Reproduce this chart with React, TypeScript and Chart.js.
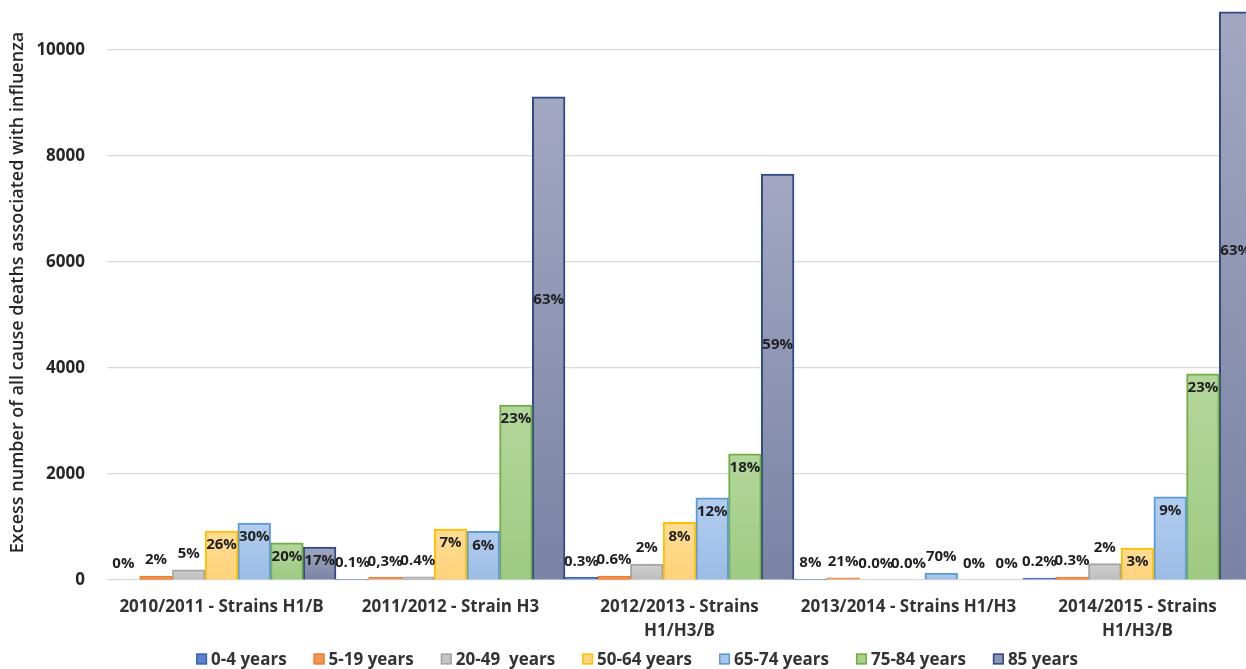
import React, { useEffect, useRef } from "react";
import { Chart, registerables } from "chart.js";

Chart.register(...registerables);

const categories: string[][] = [
  ["2010/2011 - Strains H1/B"],
  ["2011/2012 - Strain H3"],
  ["2012/2013 - Strains", "H1/H3/B"],
  ["2013/2014 - Strains H1/H3"],
  ["2014/2015 - Strains", "H1/H3/B"],
];

const ageGroups = [
  "0-4 years",
  "5-19 years",
  "20-49  years",
  "50-64 years",
  "65-74 years",
  "75-84 years",
  "85 years",
];

// Excess deaths per season for each age group
const deaths0to4 = [0, 15, 50, 15, 35];
const deaths5to19 = [75, 50, 75, 40, 55];
const deaths20to49 = [190, 60, 300, 0, 310];
const deaths50to64 = [925, 960, 1090, 0, 600];
const deaths65to74 = [1075, 920, 1550, 130, 1570];
const deaths75to84 = [700, 3300, 2380, 0, 3890];
const deaths85 = [620, 9115, 7660, 0, 10720];

// Percentage labels shown on the bars
const pct0to4 = ["0%", "0.1%", "0.3%", "8%", "0.2%"];
const pct5to19 = ["2%", "0,3%", "0.6%", "21%", "0.3%"];
const pct20to49 = ["5%", "0.4%", "2%", "0.0%", "2%"];
const pct50to64 = ["26%", "7%", "8%", "0.0%", "3%"];
const pct65to74 = ["30%", "6%", "12%", "70%", "9%"];
const pct75to84 = ["20%", "23%", "18%", "0%", "23%"];
const pct85 = ["17%", "63%", "59%", "0%", "63%"];

const yTicks = [0, 2000, 4000, 6000, 8000, 10000];

const seriesValues = [deaths0to4, deaths5to19, deaths20to49, deaths50to64, deaths65to74, deaths75to84, deaths85];
const seriesPct = [pct0to4, pct5to19, pct20to49, pct50to64, pct65to74, pct75to84, pct85];
const fills = ["#5B80CC", "#F19558", "#C6C6C6", "#FFD785", "#A8C5EA", "#A9D18E", "#8C94B0"];
const fillsTop = ["#6A8CD2", "#F4A46E", "#CFCFCF", "#FFDC95", "#B3CDEE", "#B3D79B", "#A2A8C2"];
const fillsBottom = ["#4F74C4", "#EE8A48", "#BDBDBD", "#FFD27A", "#9CBCE6", "#9FCA82", "#7A83A4"];
const borders = ["#3A64B8", "#ED7D31", "#A5A5A5", "#FFC000", "#5B9BD5", "#70AD47", "#2F4A85"];

const FONT = '"Open Sans", sans-serif';

function barFill(i: number) {
  return (c: any) => {
    const chart = c.chart;
    const ys = chart.scales && chart.scales.y;
    if (!ys || !c.parsed || c.parsed.y == null) return fills[i];
    const top = ys.getPixelForValue(c.parsed.y);
    const base = ys.getPixelForValue(0);
    if (!isFinite(top) || !isFinite(base) || base - top < 2) return fills[i];
    const g = chart.ctx.createLinearGradient(0, top, 0, base);
    g.addColorStop(0, fillsTop[i]);
    g.addColorStop(1, fillsBottom[i]);
    return g;
  };
}

const pctLabelPlugin = {
  id: "pctLabels",
  afterDatasetsDraw(chart: any) {
    const ctx = chart.ctx;
    ctx.save();
    ctx.font = `bold 15px ${FONT}`;
    ctx.fillStyle = "#1f1f1f";
    ctx.textAlign = "center";
    ctx.textBaseline = "middle";
    chart.data.datasets.forEach((_ds: any, di: number) => {
      const meta = chart.getDatasetMeta(di);
      meta.data.forEach((bar: any, i: number) => {
        const { x, y, base } = bar.getProps(["x", "y", "base"], true);
        const h = base - y;
        let cy: number;
        if (h < 20) cy = y - 16;
        else if (h < 300) cy = y + 14;
        else cy = y + 0.42 * h;
        ctx.fillText(seriesPct[di][i], x, cy);
      });
    });
    ctx.restore();
  },
};

const legendPlugin = {
  id: "bottomLegend",
  afterDraw(chart: any) {
    const ctx = chart.ctx;
    const box = 11;
    const textGap = 4;
    const itemGap = 27;
    const centerX = 637;
    const cy = 659;
    ctx.save();
    ctx.font = `bold 17px ${FONT}`;
    ctx.textBaseline = "middle";
    ctx.textAlign = "left";
    const items = chart.data.datasets.map((ds: any, i: number) => ({
      label: ds.label as string,
      fill: fills[i],
      stroke: borders[i],
      w: box + textGap + ctx.measureText(ds.label).width,
    }));
    const total = items.reduce((s: number, it: any) => s + it.w, 0) + itemGap * (items.length - 1);
    let x = centerX - total / 2;
    items.forEach((it: any) => {
      ctx.fillStyle = it.fill;
      ctx.fillRect(x, cy - box / 2, box, box);
      ctx.strokeStyle = it.stroke;
      ctx.lineWidth = 1.5;
      ctx.strokeRect(x + 0.75, cy - box / 2 + 0.75, box - 1.5, box - 1.5);
      ctx.fillStyle = "#333333";
      ctx.fillText(it.label, x + box + textGap, cy + 1);
      x += it.w + itemGap;
    });
    ctx.restore();
  },
};

export default function App() {
  const ref = useRef<HTMLCanvasElement | null>(null);

  useEffect(() => {
    if (!ref.current) return;
    Chart.defaults.font.family = FONT;
    const chart = new Chart(ref.current, {
      type: "bar",
      data: {
        labels: categories,
        datasets: ageGroups.map((label, i) => ({
          label,
          data: seriesValues[i],
          backgroundColor: barFill(i),
          borderColor: borders[i],
          borderWidth: 2,
          categoryPercentage: 1,
          barPercentage: 1,
        })),
      },
      options: {
        responsive: false,
        animation: false,
        devicePixelRatio: 1,
        layout: { padding: { top: 5, right: 4, left: 0, bottom: 0 } },
        plugins: {
          tooltip: { enabled: false },
          legend: { display: false },
        },
        scales: {
          x: {
            grid: { display: false, drawTicks: false },
            border: { display: false },
            ticks: {
              padding: 15,
              color: "#333333",
              font: { size: 17, weight: "bold", family: FONT, lineHeight: 1.4 },
              maxRotation: 0,
              autoSkip: false,
            },
            afterFit(scale: any) {
              scale.height = 89;
              scale.paddingLeft = 0;
              scale.paddingRight = 0;
            },
          },
          y: {
            min: 0,
            max: 10850,
            grid: { color: "#D9D9D9", lineWidth: 1.2, drawTicks: false },
            border: { display: false },
            ticks: {
              padding: 22,
              color: "#262626",
              font: { size: 17, weight: "bold", family: FONT },
              callback: (v: any) => String(v),
            },
            afterBuildTicks(scale: any) {
              scale.ticks = yTicks.map((v) => ({ value: v }));
            },
            title: {
              display: true,
              text: "Excess number of all cause deaths associated with influenza",
              color: "#262626",
              font: { size: 18, weight: "600", family: FONT },
              padding: { top: 7, bottom: 0 },
            },
            afterFit(scale: any) {
              scale.width = 107;
              scale.paddingTop = 0;
              scale.paddingBottom = 0;
            },
          },
        },
      },
      plugins: [pctLabelPlugin, legendPlugin],
    } as any);
    return () => chart.destroy();
  }, []);

  return (
    <div
      style={{
        position: "fixed",
        left: 0,
        top: 0,
        width: 1246,
        height: 669,
        overflow: "hidden",
        background: "#ffffff",
      }}
    >
      <canvas ref={ref} width={1256} height={669} style={{ display: "block" }} />
    </div>
  );
}
